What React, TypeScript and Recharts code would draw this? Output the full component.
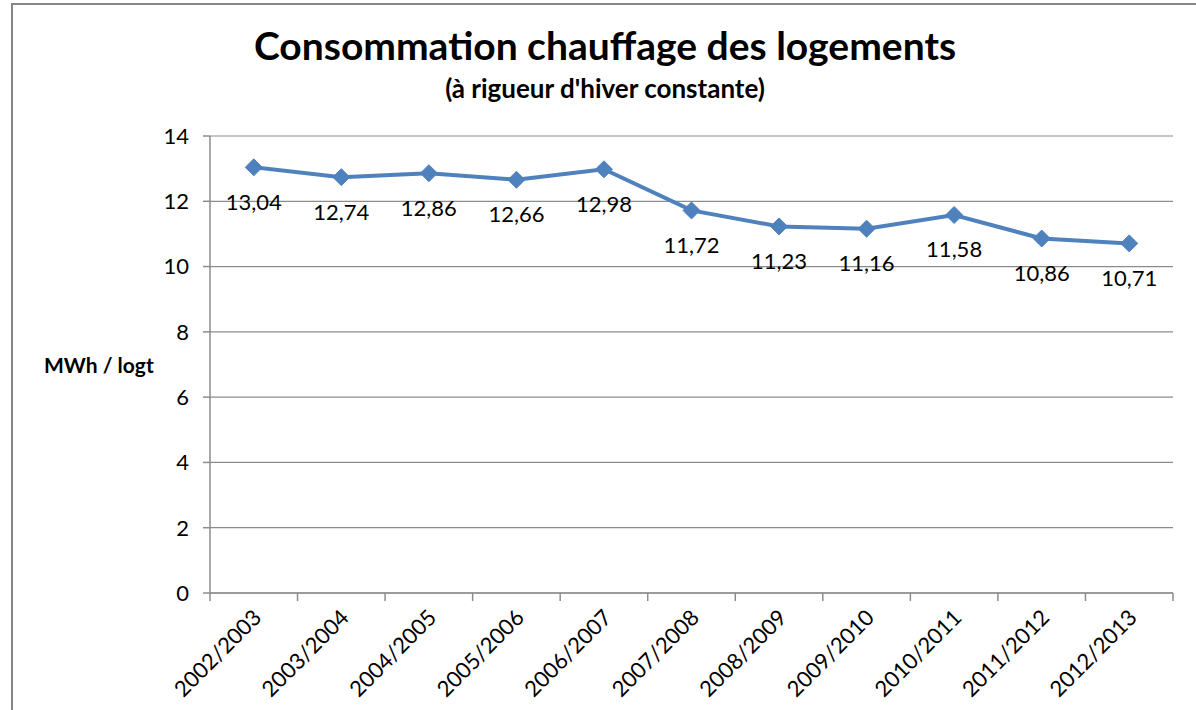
import { CartesianGrid, LabelList, Line, LineChart, XAxis, YAxis } from "recharts";

const seasons = [
  "2002/2003",
  "2003/2004",
  "2004/2005",
  "2005/2006",
  "2006/2007",
  "2007/2008",
  "2008/2009",
  "2009/2010",
  "2010/2011",
  "2011/2012",
  "2012/2013",
];
const consumption = [13.04, 12.74, 12.86, 12.66, 12.98, 11.72, 11.23, 11.16, 11.58, 10.86, 10.71];
const yTicks = [0, 2, 4, 6, 8, 10, 12, 14];

const data = seasons.map((season, i) => ({ season, value: consumption[i] }));

const FONT = "Lato, 'Open Sans', sans-serif";
const GRID = "#8c8c8c";
const BLUE = "#4f81bd";

const W = 1196;
const H = 710;
const PLOT_LEFT = 210;
const PLOT_RIGHT = 23;
const PLOT_TOP = 136;
const X_AXIS_H = 117;
const step = (W - PLOT_LEFT - PLOT_RIGHT) / seasons.length;

const SeasonTick = (props: any) => {
  const { x, y, payload, index } = props;
  const left = x - step / 2;
  return (
    <g>
      <line x1={left} y1={y - 8} x2={left} y2={y} stroke={GRID} strokeWidth={1.5} />
      {index === seasons.length - 1 && (
        <line x1={x + step / 2} y1={y - 8} x2={x + step / 2} y2={y} stroke={GRID} strokeWidth={1.5} />
      )}
      <text
        transform={`translate(${x + 9},${y + 18}) rotate(-45)`}
        textAnchor="end"
        fontSize={22}
        fontFamily={FONT}
        fill="#000"
      >
        {payload.value}
      </text>
    </g>
  );
};

const Diamond = (props: any) => {
  const { cx, cy } = props;
  if (cx == null || cy == null) return null;
  const r = 8.5;
  return (
    <polygon
      points={`${cx},${cy - r} ${cx + r},${cy} ${cx},${cy + r} ${cx - r},${cy}`}
      fill={BLUE}
      stroke={BLUE}
    />
  );
};

const ValueLabel = (props: any) => {
  const { x, y, value } = props;
  return (
    <text
      x={x}
      y={y + 34}
      textAnchor="middle"
      dominantBaseline="central"
      fontSize={22}
      fontFamily={FONT}
      fill="#000"
    >
      {String(value.toFixed(2)).replace(".", ",")}
    </text>
  );
};

export default function App() {
  return (
    <div style={{ position: "absolute", left: 0, top: 0, width: W, height: H, background: "#fff", overflow: "hidden" }}>
      <div
        style={{
          position: "absolute",
          left: 11,
          top: 3,
          width: W,
          height: H,
          borderLeft: "2.5px solid #878787",
          borderTop: "2.5px solid #878787",
        }}
      />
      <div
        style={{
          position: "absolute",
          left: 0,
          width: 1210,
          top: 22,
          textAlign: "center",
          fontFamily: FONT,
          fontWeight: 700,
          fontSize: 39,
          lineHeight: "46px",
          color: "#000",
        }}
      >
        Consommation chauffage des logements
      </div>
      <div
        style={{
          position: "absolute",
          left: 0,
          width: 1210,
          top: 73,
          textAlign: "center",
          fontFamily: FONT,
          fontWeight: 700,
          fontSize: 26,
          lineHeight: "30px",
          color: "#000",
        }}
      >
        (à rigueur d'hiver constante)
      </div>
      <div
        style={{
          position: "absolute",
          left: 44,
          top: 352,
          fontFamily: FONT,
          fontWeight: 700,
          fontSize: 21,
          lineHeight: "26px",
          color: "#000",
        }}
      >
        MWh / logt
      </div>
      <div style={{ position: "absolute", left: 0, top: 0 }}>
        <LineChart
          width={W}
          height={H}
          data={data}
          margin={{ top: PLOT_TOP, right: PLOT_RIGHT, left: 0, bottom: 0 }}
        >
          <CartesianGrid vertical={false} stroke={GRID} strokeWidth={1.2} />
          <XAxis
            dataKey="season"
            height={X_AXIS_H}
            interval={0}
            padding={{ left: step / 2, right: step / 2 }}
            stroke={GRID}
            strokeWidth={1.5}
            tickLine={false}
            tick={<SeasonTick />}
          />
          <YAxis
            width={PLOT_LEFT}
            domain={[0, 14]}
            ticks={yTicks}
            stroke={GRID}
            strokeWidth={1.5}
            tickSize={7}
            tickMargin={14}
            tick={{ fontSize: 22, fontFamily: FONT, fill: "#000" }}
          />
          <Line
            dataKey="value"
            stroke={BLUE}
            strokeWidth={4}
            dot={<Diamond />}
            activeDot={false}
            isAnimationActive={false}
          >
            <LabelList dataKey="value" content={<ValueLabel />} />
          </Line>
        </LineChart>
      </div>
    </div>
  );
}
